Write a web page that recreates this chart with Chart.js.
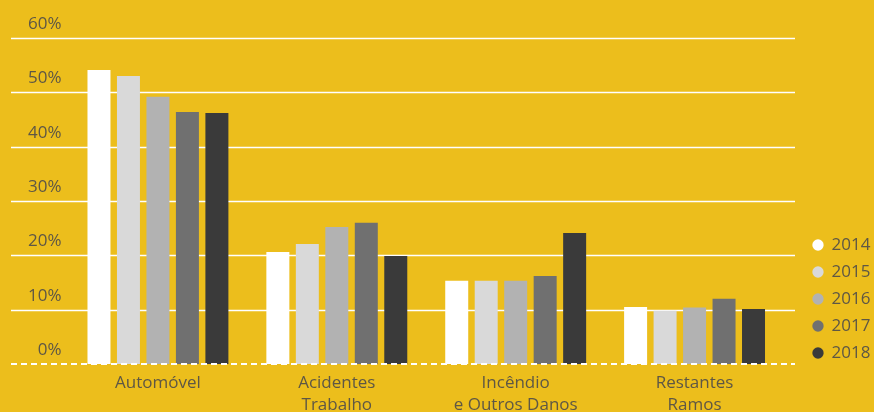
<!DOCTYPE html>
<html>
<head>
<meta charset="utf-8">
<script src="https://cdn.jsdelivr.net/npm/chart.js@4"></script>
<style>
html,body{margin:0;padding:0;background:#ECBE1C;}
#wrap{width:874px;height:412px;position:relative;}
</style>
</head>
<body>
<div id="wrap"><canvas id="c" width="874" height="412"></canvas></div>
<script>
const categories = [["Automóvel"], ["Acidentes", "Trabalho"], ["Incêndio", "e Outros Danos"], ["Restantes", "Ramos"]];
const years = ["2014", "2015", "2016", "2017", "2018"];
const v2014 = [54.1, 20.6, 15.3, 10.5];
const v2015 = [53.0, 22.1, 15.3, 9.8];
const v2016 = [49.2, 25.2, 15.3, 10.4];
const v2017 = [46.4, 26.0, 16.2, 12.0];
const v2018 = [46.2, 19.9, 24.1, 10.1];
const yTicks = [0, 10, 20, 30, 40, 50, 60];

const seriesValues = [v2014, v2015, v2016, v2017, v2018];
const colors = ["#FFFFFF", "#D9D9D9", "#B2B2B2", "#707070", "#3A3A3A"];
const textColor = "#5E5745";
const FONT = "'Open Sans', sans-serif";

const gridPlugin = {
  id: 'extGrid',
  afterInit(chart) {
    const lg = chart.legend;
    if (lg) {
      const orig = lg.fit.bind(lg);
      lg.fit = function () { orig(); this.width = 90; };
    }
  },
  afterLayout(chart) {
    const lg = chart.legend;
    if (lg) {
      const h = lg.bottom - lg.top;
      lg.left = 803; lg.right = 874;
      lg.top = 226.5; lg.bottom = lg.top + h;
    }
  },
  beforeDatasetsDraw(chart) {
    const y = chart.scales.y, ctx = chart.ctx;
    ctx.save();
    ctx.strokeStyle = '#FFFFFF';
    ctx.lineWidth = 1.7;
    yTicks.forEach(t => {
      if (t === 0) return;
      const py = Math.round(y.getPixelForValue(t)) + 0.5;
      ctx.beginPath(); ctx.moveTo(11, py); ctx.lineTo(795, py); ctx.stroke();
    });
    ctx.restore();
  },
  afterDatasetsDraw(chart) {
    const y = chart.scales.y, ctx = chart.ctx;
    ctx.save();
    ctx.strokeStyle = '#FFFFFF';
    ctx.lineWidth = 2;
    ctx.setLineDash([6, 4]);
    const py = Math.round(y.getPixelForValue(0));
    ctx.beginPath(); ctx.moveTo(11, py); ctx.lineTo(795, py); ctx.stroke();
    ctx.restore();
  }
};

new Chart(document.getElementById('c'), {
  type: 'bar',
  data: {
    labels: categories,
    datasets: years.map((yr, i) => ({
      label: yr,
      data: seriesValues[i],
      backgroundColor: colors[i],
      borderWidth: 0,
      categoryPercentage: 0.824,
      barPercentage: 0.78
    }))
  },
  options: {
    responsive: false,
    animation: false,
    layout: { padding: { top: 38, left: 0, right: 0, bottom: 0 } },
    plugins: {
      tooltip: { enabled: false },
      legend: {
        position: 'right',
        align: 'start',
        labels: {
          usePointStyle: true,
          pointStyle: 'circle',
          boxWidth: 10,
          boxHeight: 8,
          padding: 10,
          color: textColor,
          font: { family: FONT, size: 17 }
        }
      }
    },
    scales: {
      x: {
        grid: { display: false, drawTicks: false },
        border: { display: false },
        ticks: {
          color: textColor,
          font: { family: FONT, size: 17, lineHeight: 1.25 },
          padding: 9,
          maxRotation: 0,
          autoSkip: false
        },
        afterFit(s) { s.height = 48; }
      },
      y: {
        min: 0,
        max: 60,
        afterBuildTicks(s) { s.ticks = yTicks.map(v => ({ value: v })); },
        grid: { display: false, drawTicks: false },
        border: { display: false },
        ticks: {
          color: textColor,
          font: { family: FONT, size: 17 },
          padding: 7,
          labelOffset: -14,
          callback: v => v + '%'
        },
        afterFit(s) { s.width = 68.5; }
      }
    }
  },
  plugins: [gridPlugin]
});
</script>
</body>
</html>
